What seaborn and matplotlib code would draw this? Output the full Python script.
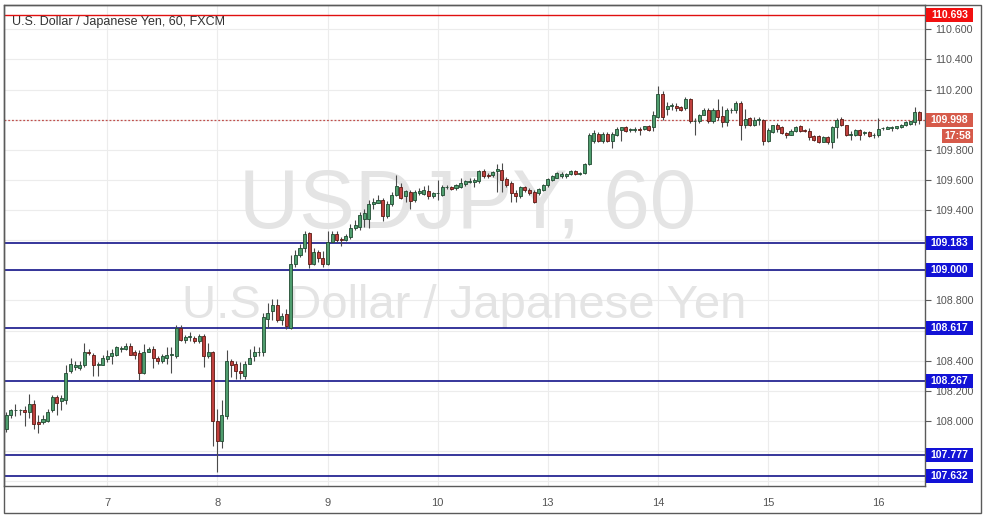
import numpy as np
import pandas as pd
import matplotlib
matplotlib.use("Agg")
import matplotlib.pyplot as plt
import matplotlib.transforms as mtransforms
from matplotlib.patches import Rectangle
from matplotlib import font_manager
import seaborn as sns

# hourly candles, USD/JPY (FXCM), 6th to 16th
opens = [
    107.95, 108.04, 108.07, 108.07, 108.07, 108.06, 108.11, 107.99, 107.99, 108.00,
    108.07, 108.16, 108.13, 108.14, 108.33, 108.36, 108.35, 108.37, 108.46, 108.44,
    108.37, 108.37, 108.41, 108.43, 108.44, 108.48, 108.48, 108.50, 108.455, 108.45,
    108.32, 108.46, 108.48, 108.42, 108.40, 108.42, 108.435, 108.43, 108.62, 108.54,
    108.56, 108.55, 108.53, 108.565, 108.43, 108.46, 108.00, 107.87, 108.03, 108.40,
    108.38, 108.33, 108.30, 108.38, 108.43, 108.455, 108.46, 108.68, 108.73, 108.77,
    108.67, 108.71, 108.62, 109.04, 109.10, 109.15, 109.245, 109.04, 109.12, 109.08,
    109.04, 109.19, 109.24, 109.21, 109.20, 109.22, 109.28, 109.29, 109.34, 109.34,
    109.44, 109.45, 109.47, 109.36, 109.44, 109.50, 109.556, 109.49, 109.52, 109.467,
    109.51, 109.507, 109.527, 109.49, 109.51, 109.50, 109.55, 109.55, 109.545, 109.556,
    109.574, 109.585, 109.585, 109.59, 109.656, 109.634, 109.634, 109.66, 109.667, 109.607,
    109.578, 109.516, 109.49, 109.55, 109.534, 109.523, 109.516, 109.53, 109.563, 109.60,
    109.616, 109.623, 109.623, 109.638, 109.656, 109.638, 109.645, 109.705, 109.856, 109.905,
    109.856, 109.905, 109.86, 109.90, 109.934, 109.949, 109.93, 109.93, 109.94, 109.94,
    109.956, 109.949, 110.016, 110.171, 110.07, 110.093, 110.09, 110.082, 110.078, 110.134,
    109.989, 109.989, 110.034, 110.067, 109.989, 110.067, 110.022, 109.985, 110.062, 110.062,
    110.111, 109.967, 110.011, 109.967, 110.0, 110.0, 109.86, 109.918, 109.962, 109.949,
    109.911, 109.90, 109.926, 109.956, 109.93, 109.926, 109.893, 109.889, 109.855, 109.882,
    109.851, 109.949, 110.007, 109.962, 109.90, 109.895, 109.931, 109.91, 109.918, 109.895,
    109.895, 109.942, 109.94, 109.944, 109.944, 109.949, 109.962, 109.971, 109.984, 110.051,
]
highs = [
    108.06, 108.08, 108.11, 108.08, 108.10, 108.18, 108.14, 108.04, 108.04, 108.08,
    108.17, 108.17, 108.17, 108.37, 108.42, 108.40, 108.40, 108.52, 108.48, 108.45,
    108.39, 108.44, 108.47, 108.48, 108.50, 108.50, 108.52, 108.52, 108.47, 108.47,
    108.51, 108.49, 108.50, 108.43, 108.445, 108.49, 108.49, 108.64, 108.64, 108.57,
    108.59, 108.567, 108.58, 108.58, 108.52, 108.467, 108.08, 108.14, 108.473, 108.41,
    108.40, 108.39, 108.40, 108.48, 108.50, 108.49, 108.72, 108.78, 108.81, 108.81,
    108.72, 108.74, 109.10, 109.133, 109.177, 109.26, 109.256, 109.145, 109.133, 109.13,
    109.26, 109.26, 109.26, 109.22, 109.238, 109.305, 109.333, 109.385, 109.41, 109.467,
    109.478, 109.50, 109.478, 109.46, 109.52, 109.63, 109.58, 109.534, 109.53, 109.534,
    109.545, 109.56, 109.563, 109.52, 109.60, 109.565, 109.565, 109.56, 109.575, 109.616,
    109.60, 109.61, 109.612, 109.667, 109.67, 109.645, 109.66, 109.705, 109.712, 109.62,
    109.59, 109.53, 109.56, 109.56, 109.545, 109.53, 109.545, 109.575, 109.615, 109.63,
    109.655, 109.65, 109.645, 109.665, 109.665, 109.65, 109.71, 109.91, 109.93, 109.92,
    109.92, 109.92, 109.92, 109.95, 109.95, 109.955, 109.945, 109.95, 109.95, 109.96,
    109.965, 110.056, 110.222, 110.19, 110.118, 110.11, 110.11, 110.09, 110.15, 110.145,
    110.01, 110.04, 110.075, 110.075, 110.075, 110.134, 110.09, 110.078, 110.078, 110.122,
    110.122, 110.07, 110.02, 110.02, 110.02, 110.005, 109.945, 109.965, 109.978, 109.96,
    109.92, 109.935, 109.955, 109.967, 109.94, 109.944, 109.90, 109.90, 109.89, 109.89,
    109.955, 110.011, 110.02, 109.965, 109.922, 109.935, 109.935, 109.922, 109.925, 109.91,
    110.011, 109.953, 109.956, 109.955, 109.96, 109.97, 109.99, 109.992, 110.082, 110.06,
]
lows = [
    107.93, 108.02, 108.03, 108.04, 107.97, 108.02, 107.95, 107.92, 107.98, 107.99,
    108.06, 108.04, 108.07, 108.11, 108.32, 108.34, 108.34, 108.36, 108.44, 108.30,
    108.30, 108.37, 108.39, 108.38, 108.43, 108.46, 108.47, 108.44, 108.41, 108.27,
    108.31, 108.46, 108.35, 108.38, 108.385, 108.38, 108.32, 108.42, 108.53, 108.52,
    108.53, 108.52, 108.52, 108.36, 108.42, 107.833, 107.66, 107.82, 108.01, 108.29,
    108.28, 108.28, 108.28, 108.38, 108.40, 108.43, 108.43, 108.62, 108.67, 108.66,
    108.64, 108.61, 108.61, 109.02, 109.09, 109.12, 109.016, 109.033, 109.056, 109.02,
    109.033, 109.185, 109.19, 109.16, 109.193, 109.21, 109.267, 109.267, 109.29, 109.278,
    109.41, 109.445, 109.33, 109.35, 109.43, 109.49, 109.473, 109.456, 109.41, 109.456,
    109.50, 109.50, 109.474, 109.478, 109.467, 109.49, 109.54, 109.53, 109.535, 109.545,
    109.56, 109.58, 109.556, 109.578, 109.615, 109.61, 109.62, 109.52, 109.523, 109.55,
    109.456, 109.452, 109.48, 109.52, 109.50, 109.445, 109.50, 109.525, 109.555, 109.59,
    109.61, 109.615, 109.615, 109.63, 109.63, 109.63, 109.64, 109.70, 109.845, 109.85,
    109.845, 109.85, 109.81, 109.89, 109.856, 109.92, 109.915, 109.92, 109.90, 109.93,
    109.925, 109.927, 110.01, 110.0, 110.03, 110.067, 110.056, 110.06, 110.067, 109.978,
    109.90, 109.98, 110.03, 109.98, 109.98, 110.0, 109.95, 109.956, 110.045, 110.045,
    109.867, 109.945, 109.96, 109.96, 109.967, 109.83, 109.855, 109.91, 109.92, 109.905,
    109.878, 109.895, 109.92, 109.92, 109.92, 109.866, 109.86, 109.845, 109.85, 109.84,
    109.811, 109.878, 109.955, 109.89, 109.866, 109.89, 109.866, 109.895, 109.882, 109.878,
    109.882, 109.93, 109.935, 109.926, 109.94, 109.945, 109.958, 109.965, 109.967, 109.971,
]
closes = [
    108.04, 108.07, 108.075, 108.07, 108.06, 108.11, 107.98, 107.98, 108.01, 108.06,
    108.16, 108.12, 108.15, 108.32, 108.38, 108.37, 108.37, 108.46, 108.45, 108.37,
    108.38, 108.42, 108.43, 108.45, 108.49, 108.48, 108.50, 108.44, 108.44, 108.32,
    108.46, 108.48, 108.42, 108.40, 108.43, 108.44, 108.445, 108.62, 108.54, 108.56,
    108.56, 108.53, 108.565, 108.43, 108.46, 108.00, 107.87, 108.04, 108.40, 108.37,
    108.33, 108.32, 108.38, 108.42, 108.46, 108.46, 108.69, 108.72, 108.77, 108.67,
    108.70, 108.63, 109.04, 109.10, 109.15, 109.24, 109.044, 109.12, 109.08, 109.04,
    109.19, 109.24, 109.20, 109.20, 109.23, 109.28, 109.30, 109.37, 109.38, 109.44,
    109.455, 109.47, 109.36, 109.44, 109.50, 109.56, 109.478, 109.527, 109.46, 109.523,
    109.527, 109.534, 109.49, 109.51, 109.512, 109.556, 109.553, 109.54, 109.563, 109.578,
    109.59, 109.596, 109.60, 109.656, 109.623, 109.623, 109.652, 109.67, 109.60, 109.563,
    109.51, 109.49, 109.55, 109.534, 109.512, 109.452, 109.54, 109.567, 109.607, 109.623,
    109.645, 109.64, 109.638, 109.656, 109.638, 109.645, 109.705, 109.90, 109.91, 109.856,
    109.905, 109.856, 109.905, 109.938, 109.949, 109.927, 109.935, 109.94, 109.93, 109.956,
    109.934, 110.034, 110.171, 110.016, 110.09, 110.095, 110.078, 110.067, 110.134, 109.989,
    109.99, 110.03, 110.067, 109.989, 110.067, 110.016, 109.985, 110.062, 110.062, 110.111,
    109.967, 110.007, 109.967, 110.0, 110.005, 109.86, 109.933, 109.962, 109.94, 109.911,
    109.90, 109.926, 109.949, 109.926, 109.926, 109.882, 109.866, 109.855, 109.882, 109.851,
    109.949, 110.0, 109.962, 109.895, 109.904, 109.931, 109.90, 109.911, 109.889, 109.895,
    109.94, 109.946, 109.951, 109.944, 109.956, 109.967, 109.984, 109.989, 110.051, 109.998,
]

day_labels = ["7", "8", "9", "10", "13", "14", "15", "16"]
first_day_candles = 22   # the 6th starts at 02:00
candles_per_day = 24

level_prices = [109.183, 109.000, 108.617, 108.267, 107.777, 107.632]
level_labels = ["109.183", "109.000", "108.617", "108.267", "107.777", "107.632"]
top_price = 110.693
last_price = 109.998
countdown = "17:58"
grid_prices = [107.6, 107.8, 108.0, 108.2, 108.4, 108.6, 108.8, 109.0,
               109.2, 109.4, 109.6, 109.8, 110.0, 110.2, 110.4, 110.6]
# scale labels that are not hidden behind the price boxes
label_prices = [108.0, 108.2, 108.4, 108.8, 109.4, 109.6, 109.8, 110.2, 110.4, 110.6]

title = "U.S. Dollar / Japanese Yen, 60, FXCM"
mark_big = "USDJPY, 60"
mark_small = "U.S. Dollar / Japanese Yen"

df = pd.DataFrame({"open": opens, "high": highs, "low": lows, "close": closes})
df["x"] = np.arange(len(df))
df["up"] = df["close"] >= df["open"]

sns.set_theme(style="white")
plt.rcParams["font.family"] = ["Liberation Sans", "DejaVu Sans"]

installed = {f.name for f in font_manager.fontManager.ttflist}
narrow = "Liberation Sans Narrow" in installed

W, H = 988, 517
fig = plt.figure(figsize=(W / 100, H / 100), dpi=100)
fig.patch.set_facecolor("white")
ax_l, ax_t, ax_r, ax_b = 4, 5, 925, 486
ax = fig.add_axes([ax_l / W, 1 - ax_b / H, (ax_r - ax_l) / W, (ax_b - ax_t) / H])
ymin, ymax = 107.5685, 110.761
ax.set_xlim(-0.5, 200.2)
ax.set_ylim(ymin, ymax)
ax.set_axisbelow(True)

# grid
day_pos = [first_day_candles + candles_per_day * k for k in range(len(day_labels))]
for p in grid_prices:
    ax.axhline(p, color="#ececec", lw=0.8, zorder=0.5)
for d in day_pos:
    ax.axvline(d, color="#ececec", lw=0.8, zorder=0.5)
for s in ax.spines.values():
    s.set_color("#5a5a5a")
    s.set_linewidth(1)

# watermark
if narrow:
    ax.text(0.503, 0.584, mark_big, transform=ax.transAxes, ha="center", va="center",
            fontsize=76, color="#e4e4e4", family="Liberation Sans Narrow", zorder=1)
else:
    ax.text(0.503, 0.584, mark_big, transform=ax.transAxes, ha="center", va="center",
            fontsize=60, color="#e4e4e4", zorder=1)
ax.text(0.5, 0.375, mark_small, transform=ax.transAxes, ha="center", va="center",
        fontsize=34, color="#e4e4e4", zorder=1)

# levels
for p in level_prices:
    ax.axhline(p, color="#000080", lw=1.1, zorder=2)
ax.axhline(top_price, color="#e01010", lw=1.0, zorder=2)
ax.axhline(last_price, color="#c0504d", lw=0.9, ls=(0, (1.5, 1.5)), zorder=2)

# candles
up_body, dn_body = "#4f9d6e", "#c0403e"
up_edge, dn_edge = "#1f4a30", "#5b1a13"
ax.vlines(df["x"], df["low"], df["high"], color="#4a4a4a", lw=0.8, zorder=3)
body_bottom = np.minimum(df["open"], df["close"])
body_height = np.maximum((df["close"] - df["open"]).abs(), 0.005)
ax.bar(df["x"], body_height, bottom=body_bottom, width=0.66,
       color=np.where(df["up"], up_body, dn_body),
       edgecolor=np.where(df["up"], up_edge, dn_edge), linewidth=0.6, zorder=4)

# axes ticks
ax.yaxis.tick_right()
ax.set_yticks(label_prices)
ax.set_yticklabels([f"{v:.3f}" for v in label_prices])
ax.tick_params(axis="y", length=4, width=0.8, color="#5a5a5a", labelsize=7.7,
               labelcolor="#555555", pad=3, direction="out")
ax.set_xticks(day_pos)
ax.set_xticklabels(day_labels)
ax.tick_params(axis="x", length=4, width=0.8, color="#5a5a5a", labelsize=8,
               labelcolor="#555555", pad=5, direction="out")

# price boxes on the scale
px = (ymax - ymin) / (ax_b - ax_t)   # price units per pixel
aw = ax_r - ax_l
trans = mtransforms.blended_transform_factory(ax.transAxes, ax.transData)


def price_box(p, label, face, x0=1, x1=48, dy=0):
    yc = p - dy * px
    ax.add_patch(Rectangle((1 + x0 / aw, yc - 7 * px), (x1 - x0) / aw, 14 * px,
                           transform=trans, facecolor=face, edgecolor="none",
                           clip_on=False, zorder=8))
    ax.text(1 + (x0 + x1) / 2 / aw, yc, label, transform=trans, ha="center",
            va="center", color="white", fontsize=7.5, fontweight="bold",
            clip_on=False, zorder=9)


for p, lab in zip(level_prices, level_labels):
    price_box(p, lab, "#1212d6")
price_box(top_price, f"{top_price:.3f}", "#f21010")
price_box(last_price, f"{last_price:.3f}", "#d65a4a")
price_box(last_price, countdown, "#d65a4a", x0=17, x1=48, dy=16)

# title
fig.text(12 / W, 1 - 22 / H, title, ha="left", va="center", fontsize=9, color="#333333")

# outer frame
fig.add_artist(Rectangle((ax_l / W, 1 - 513 / H), (981 - ax_l) / W, (513 - ax_t) / H,
                         transform=fig.transFigure, fill=False, edgecolor="#5a5a5a", lw=1))

fig.savefig("out.png", dpi=100)
